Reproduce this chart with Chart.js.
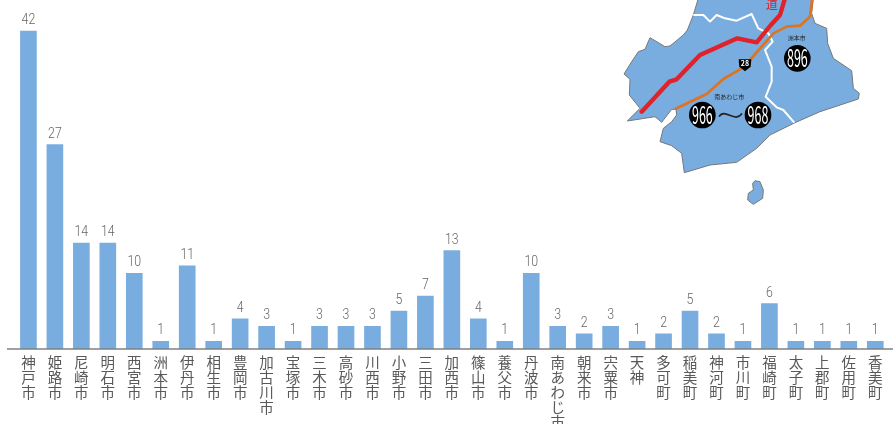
<!DOCTYPE html>
<html lang="ja">
<head>
<meta charset="utf-8">
<script src="https://cdn.jsdelivr.net/npm/chart.js@4"></script>
<style>
  html, body { margin: 0; padding: 0; background: #fff; overflow: hidden; }
  #wrap { position: relative; width: 893px; height: 424px; }
  #map { position: absolute; left: 600px; top: 0; width: 293px; height: 220px; }
  #map text { font-family: "Noto Sans CJK JP", sans-serif; }
</style>
</head>
<body>
<div id="wrap">
  <canvas id="chart" width="893" height="424"></canvas>
  <!-- inset map, drawn at 3x and scaled down -->
  <svg id="map" viewBox="0 0 879 660">
    <path fill="#79addf" stroke="#777" stroke-width="3" stroke-linejoin="round"
      d="M295,-5 L280,45 L262,90 L250,105 L210,138 L195,140 L150,113 L135,148 L115,155 L95,185 L72,222 L90,238 L88,285 L120,325 L82,363 L165,350 L185,367 L215,328 L228,328 L230,345 L215,365 L190,385 L180,425 L215,437 L245,460 L253,518 L330,495 L410,487 L470,445 L510,405 L585,368 L660,335 L775,297 L778,280 L760,265 L755,212 L700,175 L683,130 L680,85 L645,70 L635,40 L640,-5 Z"/>
    <path fill="#79addf" stroke="#777" stroke-width="3" stroke-linejoin="round"
      d="M465,542 L480,545 L490,570 L488,595 L460,613 L443,600 L445,580 L460,570 L458,550 Z"/>
    <path fill="none" stroke="#fff" stroke-width="6" stroke-linejoin="round"
      d="M280,45 L310,45 L330,65 L350,45 L375,55 L410,62 L455,42 L475,85 L505,100 L518,125 L495,150 L515,200 L515,245 L497,290 L530,322 L550,330 L583,368"/>
    <path fill="none" stroke="#e0731f" stroke-width="8" stroke-linejoin="round"
      d="M637,-5 L630,50 L600,77 L560,80 L520,100 L450,180 L420,208 L370,237 L320,282 L225,327"/>
    <path fill="none" stroke="#e0222a" stroke-width="13" stroke-linecap="round" stroke-linejoin="round"
      d="M555,-5 L540,45 L510,78 L470,127 L412,115 L300,165 L230,238 L208,245 L125,335"/>
    <text x="515" y="28" font-size="36" fill="#e0222a" text-anchor="middle">道</text>
    <path fill="#000" d="M416,178 L454,178 L452,200 L435,214 L418,200 Z"/>
    <text x="435" y="199" font-size="21" font-weight="bold" fill="#fff" text-anchor="middle">28</text>
    <text x="590" y="121" font-size="18" fill="#222" text-anchor="middle">洲本市</text>
    <text x="388" y="298" font-size="18" fill="#222" text-anchor="middle">南あわじ市</text>
    <circle cx="592" cy="175" r="40" fill="#000"/>
    <circle cx="307" cy="345" r="40" fill="#000"/>
    <circle cx="474" cy="345" r="40" fill="#000"/>
    <g fill="#fff" font-size="72" text-anchor="middle">
      <text transform="translate(592,201) scale(.52,1)">896</text>
      <text transform="translate(307,371) scale(.52,1)">966</text>
      <text transform="translate(474,371) scale(.52,1)">968</text>
    </g>
    <path fill="none" stroke="#222" stroke-width="5" d="M357,350 C375,322 405,372 426,340"/>
  </svg>
</div>
<script>
const cities = ['神戸市', '姫路市', '尼崎市', '明石市', '西宮市', '洲本市', '伊丹市', '相生市', '豊岡市', '加古川市', '宝塚市',
  '三木市', '高砂市', '川西市', '小野市', '三田市', '加西市', '篠山市', '養父市', '丹波市', '南あわじ市', '朝来市',
  '宍粟市', '天神', '多可町', '稲美町', '神河町', '市川町', '福崎町', '太子町', '上郡町', '佐用町', '香美町'];
const counts = [42, 27, 14, 14, 10, 1, 11, 1, 4, 3, 1,
  3, 3, 3, 5, 7, 13, 4, 1, 10, 3, 2,
  3, 1, 2, 5, 2, 1, 6, 1, 1, 1, 1];

// numbers above the bars, squeezed a little to match the narrow digits
const barValues = {
  id: 'barValues',
  afterDatasetsDraw(chart) {
    const ctx = chart.ctx;
    ctx.font = '300 14px Roboto';
    ctx.fillStyle = '#666';
    ctx.textAlign = 'center';
    ctx.textBaseline = 'alphabetic';
    chart.getDatasetMeta(0).data.forEach((bar, i) => {
      ctx.save();
      ctx.translate(bar.x, bar.y - 7);
      ctx.scale(0.88, 1);
      ctx.fillText(counts[i], 0, 0);
      ctx.restore();
    });
  }
};

// baseline runs past the plot on both sides
const baseline = {
  id: 'baseline',
  afterDatasetsDraw(chart) {
    const ctx = chart.ctx;
    const y = chart.scales.x.top;
    ctx.save();
    ctx.strokeStyle = '#808080';
    ctx.lineWidth = 1.5;
    ctx.beginPath();
    ctx.moveTo(7, y);
    ctx.lineTo(chart.width, y);
    ctx.stroke();
    ctx.restore();
  }
};

new Chart(document.getElementById('chart'), {
  type: 'bar',
  data: {
    labels: cities,
    datasets: [{ data: counts, backgroundColor: '#79addf', barThickness: 16 }]
  },
  options: {
    responsive: false,
    animation: false,
    layout: { padding: { left: 15.2, right: 4.5, top: 0, bottom: 0 } },
    plugins: { legend: { display: false }, tooltip: { enabled: false } },
    scales: {
      x: {
        afterFit: s => { s.height = 75; },
        grid: { display: false, drawTicks: false },
        border: { display: false },
        ticks: {
          autoSkip: false,
          maxRotation: 0,
          minRotation: 0,
          padding: 6,
          color: '#595959',
          font: { family: '"Noto Sans CJK JP"', size: 14.5, lineHeight: 1.04 },
          // one character per line, reads top to bottom
          callback(value) { return Array.from(this.getLabelForValue(value)); }
        }
      },
      y: { display: false, min: 0, max: 46.1 }
    }
  },
  plugins: [barValues, baseline]
});
</script>
</body>
</html>
